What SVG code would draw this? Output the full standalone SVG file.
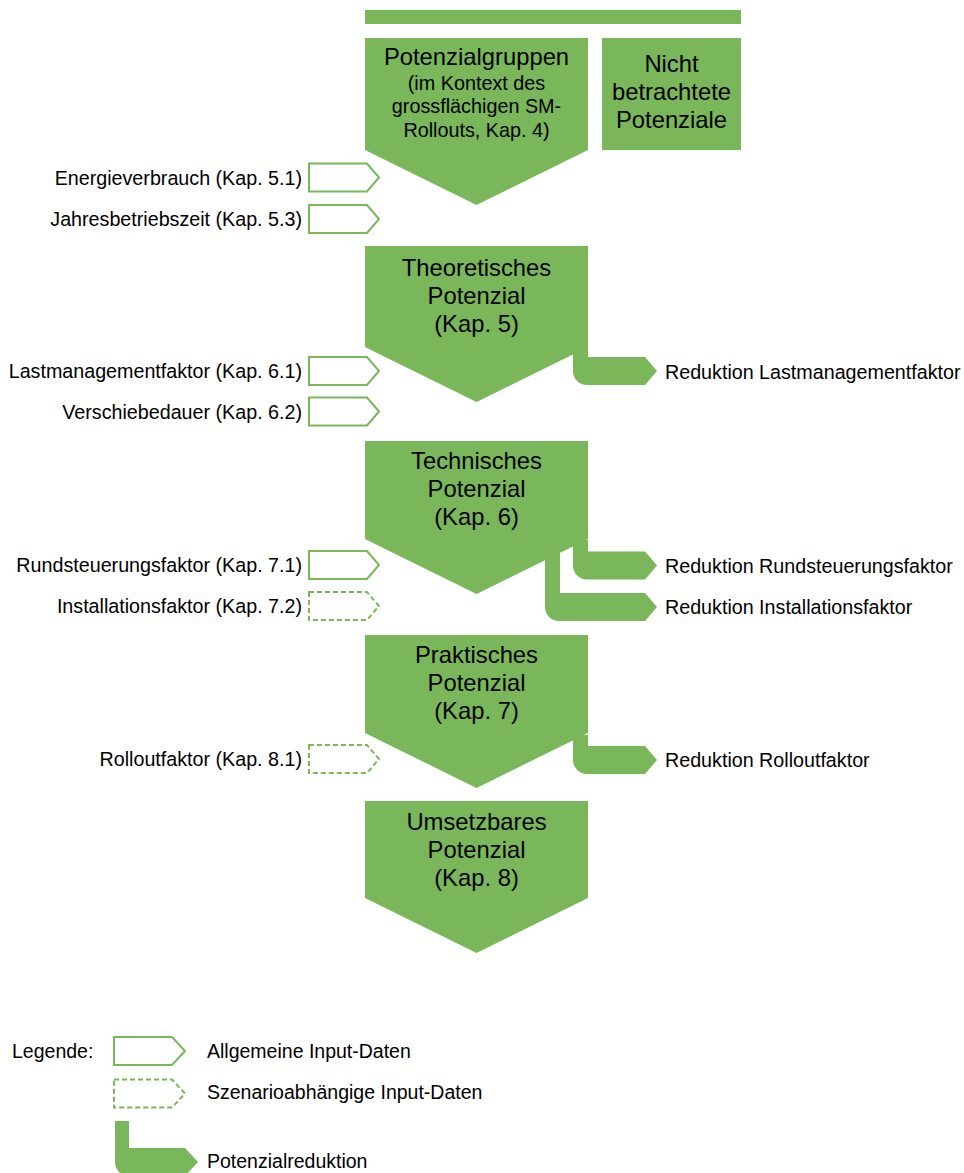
<svg xmlns="http://www.w3.org/2000/svg" width="964" height="1173" viewBox="0 0 964 1173">
<style>
.g{fill:#79b75a}
.in{fill:#fff;stroke:#79b75a;stroke-width:2}
.dash{stroke-dasharray:5 3}
text{font-family:"Liberation Sans",Arial,sans-serif;fill:#000}
.big{font-size:23.8px;text-anchor:middle}
.mid{font-size:19.8px;text-anchor:middle}
.lbl{font-size:19.7px;text-anchor:end}
.rl{font-size:19.7px}
.leg{font-size:19.5px}
</style>
<rect id="topbar" class="g" x="365" y="10" width="376" height="14"/>
<g id="connectors">
<path class="g" d="M573,345 H588 V357 H645 L657,371 L645,385 H587 A14,14 0 0 1 573,371 Z"/>
<path class="g" d="M573,540 H588 V551.5 H645 L657,565.5 L645,579.5 H587 A14,14 0 0 1 573,565.5 Z"/>
<path class="g" d="M545,548 H560 V593 H645 L657,607 L645,621 H559 A14,14 0 0 1 545,607 Z"/>
<path class="g" d="M573,735 H588 V746 H645 L657,760 L645,774 H587 A14,14 0 0 1 573,760 Z"/>
</g>
<g id="n-potenzialgruppen">
<polygon class="g" points="365,38 588,38 588,150 476.5,205 365,150"/>
<text class="big" x="476.5" y="65">Potenzialgruppen</text>
<text class="mid" x="476.5" y="90">(im Kontext des</text>
<text class="mid" x="476.5" y="113">grossflächigen SM-</text>
<text class="mid" x="476.5" y="136.5">Rollouts, Kap. 4)</text>
</g>
<g id="n-nicht">
<rect class="g" x="602" y="38" width="139" height="112"/>
<text class="big" x="671.5" y="72">Nicht</text>
<text class="big" x="671.5" y="100">betrachtete</text>
<text class="big" x="671.5" y="128">Potenziale</text>
</g>
<g id="n-theoretisch">
<polygon class="g" points="365,246 588,246 588,347 476.5,402 365,347"/>
<text class="big" x="476.5" y="276">Theoretisches</text>
<text class="big" x="476.5" y="304">Potenzial</text>
<text class="big" x="476.5" y="332">(Kap. 5)</text>
</g>
<g id="n-technisch">
<polygon class="g" points="365,441 588,441 588,539 476.5,594 365,539"/>
<text class="big" x="476.5" y="469">Technisches</text>
<text class="big" x="476.5" y="497">Potenzial</text>
<text class="big" x="476.5" y="525">(Kap. 6)</text>
</g>
<g id="n-praktisch">
<polygon class="g" points="365,635 588,635 588,733 476.5,788 365,733"/>
<text class="big" x="476.5" y="663">Praktisches</text>
<text class="big" x="476.5" y="691">Potenzial</text>
<text class="big" x="476.5" y="719">(Kap. 7)</text>
</g>
<g id="n-umsetzbar">
<polygon class="g" points="365,801 588,801 588,898 476.5,953 365,898"/>
<text class="big" x="476.5" y="830">Umsetzbares</text>
<text class="big" x="476.5" y="858">Potenzial</text>
<text class="big" x="476.5" y="886">(Kap. 8)</text>
</g>
<g id="inputs">
<polygon class="in" points="309,163.5 367,163.5 379,177.5 367,191.5 309,191.5"/>
<text class="lbl" x="302" y="184.5">Energieverbrauch (Kap. 5.1)</text>
<polygon class="in" points="309,205 367,205 379,219 367,233 309,233"/>
<text class="lbl" x="302" y="226">Jahresbetriebszeit (Kap. 5.3)</text>
<polygon class="in" points="309,357 367,357 379,371 367,385 309,385"/>
<text class="lbl" x="302" y="378">Lastmanagementfaktor (Kap. 6.1)</text>
<polygon class="in" points="309,397.5 367,397.5 379,411.5 367,425.5 309,425.5"/>
<text class="lbl" x="302" y="418.5">Verschiebedauer (Kap. 6.2)</text>
<polygon class="in" points="309,551 367,551 379,565 367,579 309,579"/>
<text class="lbl" x="302" y="572">Rundsteuerungsfaktor (Kap. 7.1)</text>
<polygon class="in dash" points="309,592 367,592 379,606 367,620 309,620"/>
<text class="lbl" x="302" y="613">Installationsfaktor (Kap. 7.2)</text>
<polygon class="in dash" points="309,745 367,745 379,759 367,773 309,773"/>
<text class="lbl" x="302" y="766">Rolloutfaktor (Kap. 8.1)</text>
</g>
<g id="reductions">
<text class="rl" x="665" y="378.5">Reduktion Lastmanagementfaktor</text>
<text class="rl" x="665" y="573">Reduktion Rundsteuerungsfaktor</text>
<text class="rl" x="665" y="613.5">Reduktion Installationsfaktor</text>
<text class="rl" x="665" y="766.5">Reduktion Rolloutfaktor</text>
</g>
<g id="legend">
<text class="leg" x="12" y="1057.5">Legende:</text>
<polygon class="in" points="114,1037 172,1037 185,1051 172,1065 114,1065"/>
<text class="leg" x="207" y="1057.5">Allgemeine Input-Daten</text>
<polygon class="in dash" points="114,1079.5 172,1079.5 185,1093.5 172,1107.5 114,1107.5"/>
<text class="leg" x="207" y="1099">Szenarioabhängige Input-Daten</text>
<path class="g" d="M115,1121 H129 V1148 H185 L198,1162 L185,1176 H129 A14,14 0 0 1 115,1162 Z"/>
<text class="leg" x="207" y="1167.5">Potenzialreduktion</text>
</g>
</svg>
